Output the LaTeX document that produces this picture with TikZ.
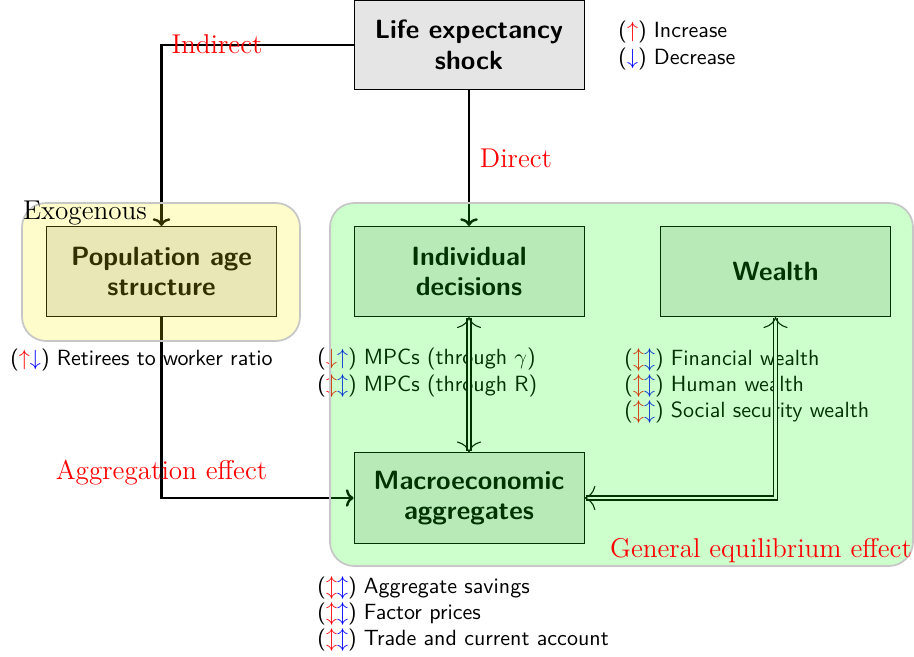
\documentclass[tikz,border=0pt]{standalone}
\usetikzlibrary{arrows.meta}
\newcommand\ArrUp{\textcolor{red}{$\uparrow$}}
\newcommand\ArrDown{\textcolor{blue}{$\downarrow$}}
\newcommand\ArrUpB{\textcolor{blue}{$\uparrow$}}
\newcommand\ArrDownR{\textcolor{red}{$\downarrow$}}
\newcommand\ArrBoth{\textcolor{red}{$\updownarrow$}\textcolor{blue}{$\updownarrow$}}
\begin{document}
\begin{tikzpicture}[x=0.4545pt,y=-0.4545pt,
  box/.style={draw, fill=black!10, font=\sffamily\bfseries\large, align=center,
    minimum width=104.5pt, minimum height=41pt, inner sep=2pt},
  flow/.style={line width=1.1pt, -{To[length=3.5pt,width=8pt]}},
  cmtip/.tip={Computer Modern Rightarrow[length=5pt,width=11pt,line width=0.5pt]},
  link/.style={cmtip-cmtip, double, double distance=1.3pt, line width=0.55pt},
  note/.style={font=\sffamily, align=left, anchor=west, inner sep=0pt},
  tag/.style={font=\fontsize{12.35}{15}\selectfont, text=red, inner sep=0pt},
  zone/.style={draw=black!22, line width=0.8pt, rounded corners=11pt, fill opacity=0.2}]

\useasboundingbox (0,0) rectangle (914,657);

% boxes
\node[box, minimum height=40.5pt] (life) at (469,45) {Life expectancy\\shock};
\node[box] (pop) at (161.5,271.5) {Population age\\structure};
\node[box] (indiv) at (469,271.5) {Individual\\decisions};
\node[box] (wealth) at (775.5,271.5) {Wealth};
\node[box] (macro) at (469,498) {Macroeconomic\\aggregates};

% legend and effect lists
\node[note] (legend) at (618,45.5) {(\ArrUp) Increase\\(\ArrDown) Decrease};
\node[note] (ratio) at (10,360) {(\ArrUp\ArrDown) Retirees to worker ratio};
\node[note] (mpc) at (317,372.5) {(\ArrDownR\ArrUpB) MPCs (through $\gamma$)\\(\ArrBoth) MPCs (through R)};
\node[note] (wlist) at (624,386) {(\ArrBoth) Financial wealth\\(\ArrBoth) Human wealth\\(\ArrBoth) Social security wealth};
\node[note] (agg) at (317,614) {(\ArrBoth) Aggregate savings\\(\ArrBoth) Factor prices\\(\ArrBoth) Trade and current account};

% connectors
\draw[flow] (life.west) -| (pop.north);
\draw[flow] (life.south) -- (indiv.north);
\draw[flow] (pop.south) |- (macro.west);
\draw[link] (indiv.south) -- (macro.north);
\draw[link] (wealth.south) |- (macro.east);

% shaded zones laid over the boxes
\draw[zone, fill=yellow] (22,203) rectangle (300,341);
\draw[zone, fill=green] (330,203) rectangle (913,566);

% labels
\node[tag] (indirect) at (217,44) {Indirect};
\node[tag] (direct) at (516,158) {Direct};
\node[tag] (aggeff) at (161.5,473) {Aggregation effect};
\node[tag] (geeff) at (761,551) {General equilibrium effect};
\node[tag, text=black] (exo) at (85,213) {Exogenous};
\end{tikzpicture}
\end{document}
